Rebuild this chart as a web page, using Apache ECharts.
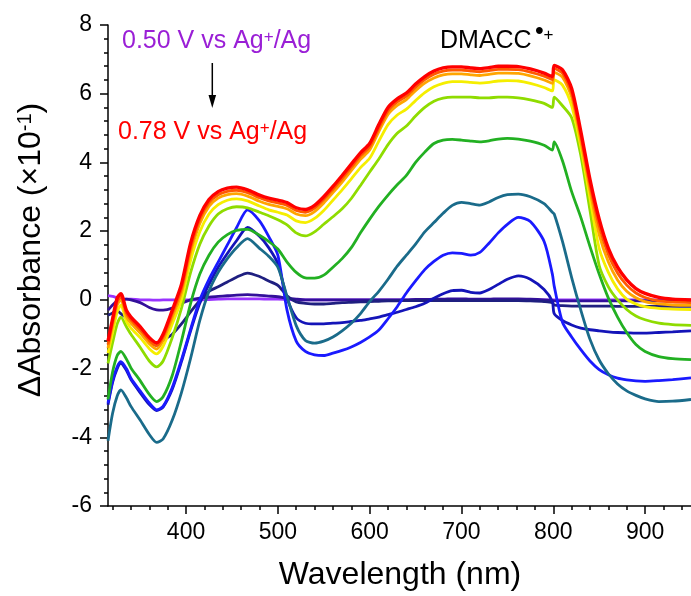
<!DOCTYPE html>
<html>
<head>
<meta charset="utf-8">
<script src="https://cdn.jsdelivr.net/npm/echarts@6/dist/echarts.min.js"></script>
<style>
  html, body { margin: 0; padding: 0; background: #fff; }
  #chart { width: 691px; height: 596px; }
</style>
</head>
<body>
<div id="chart"></div>
<script>
// Wavelength grid (nm) shared by every difference spectrum
const wavelength = [315,320,325,329,335,340,350,360,368,375,385,395,405,415,425,435,445,455,467,480,490,500,510,520,530,540,550,560,570,580,590,600,610,620,630,640,650,660,670,680,690,700,710,720,730,740,750,762,775,790,799,801,810,820,830,840,850,860,870,880,890,900,915,930,950];

// Difference absorbance (x10^-1), one trace per applied potential,
// from 0.50 V (trace01) up to 0.78 V vs Ag+/Ag (trace12)
const trace01 = [0.12,0.10,0.06,0.03,0.02,0.02,0.00,0.00,-0.01,0.00, 0.00,0.00,0.00,0.00,0.01,0.02,0.03,0.03,0.03,0.03, 0.02,0.02,0.01,0.00,0.00,0.00,0.00,0.00,0.00,0.00, 0.00,0.00,0.00,0.00,0.00,0.00,0.00,0.00,0.00,0.00, 0.01,0.01,0.01,0.01,0.01,0.01,0.01,0.01,0.01,0.00, 0.00,0.00,0.00,0.00,0.00,0.00,0.00,0.00,0.00,0.00, 0.00,0.00,0.00,0.00,0.00];
const trace02 = [-0.30,-0.15,-0.03,0.00,0.02,0.00,-0.08,-0.22,-0.29,-0.30, -0.24,-0.10,0.00,0.05,0.08,0.10,0.12,0.14,0.15,0.13, 0.11,0.09,0.05,0.02,0.00,0.00,0.00,0.00,0.00,0.00, 0.00,0.00,0.00,0.00,0.00,0.00,0.01,0.01,0.02,0.02, 0.03,0.03,0.02,0.02,0.02,0.03,0.03,0.03,0.02,0.00, -0.02,-0.03,-0.03,-0.03,-0.03,-0.03,-0.03,-0.03,-0.03,-0.03, -0.03,-0.03,-0.03,-0.03,-0.03];
const trace03 = [-0.45,-0.38,-0.32,-0.40,-0.52,-0.65,-0.95,-1.20,-1.32,-1.18, -1.00,-0.70,-0.35,-0.02,0.25,0.38,0.52,0.66,0.78,0.68, 0.55,0.42,0.12,-0.06,-0.10,-0.12,-0.12,-0.10,-0.08,-0.07, -0.06,-0.05,-0.04,-0.03,-0.03,-0.02,-0.02,-0.02,-0.02,-0.02, -0.02,-0.02,-0.02,-0.02,-0.02,-0.02,-0.02,-0.02,-0.03,-0.05, -0.08,-0.15,-0.17,-0.18,-0.18,-0.18,-0.18,-0.18,-0.19,-0.19, -0.19,-0.19,-0.19,-0.19,-0.19];
const trace04 = [-3.05,-2.40,-2.00,-1.85,-2.05,-2.32,-2.70,-3.05,-3.22,-3.12, -2.60,-1.80,-0.90,-0.10,0.45,0.95,1.35,1.72,2.11,1.85, 1.52,1.05,0.05,-0.52,-0.68,-0.70,-0.70,-0.68,-0.66,-0.63, -0.60,-0.55,-0.50,-0.43,-0.36,-0.28,-0.20,-0.10,0.05,0.18, 0.27,0.28,0.22,0.20,0.30,0.45,0.60,0.70,0.60,0.30, -0.05,-0.40,-0.60,-0.73,-0.82,-0.87,-0.90,-0.93,-0.95,-0.96, -0.97,-0.97,-0.95,-0.93,-0.90];
const trace05 = [-3.00,-2.35,-1.95,-1.80,-2.00,-2.28,-2.65,-3.00,-3.20,-3.10, -2.55,-1.75,-0.85,0.00,0.60,1.10,1.60,2.10,2.62,2.30, 1.85,1.30,-0.30,-1.20,-1.50,-1.60,-1.62,-1.55,-1.47,-1.37, -1.24,-1.08,-0.88,-0.55,-0.20,0.20,0.55,0.88,1.12,1.30, 1.37,1.35,1.30,1.38,1.65,1.95,2.20,2.40,2.28,1.70, 0.75,0.40,-0.65,-1.08,-1.45,-1.78,-2.03,-2.18,-2.28,-2.33, -2.36,-2.37,-2.35,-2.32,-2.27];
const trace06 = [-4.10,-3.30,-2.80,-2.62,-2.85,-3.10,-3.50,-3.92,-4.15,-4.05, -3.50,-2.70,-1.70,-0.60,0.25,0.80,1.20,1.52,1.78,1.50, 1.27,0.95,0.10,-0.75,-1.18,-1.26,-1.20,-1.08,-0.90,-0.68, -0.40,-0.05,0.25,0.60,0.98,1.30,1.62,1.98,2.25,2.52, 2.75,2.84,2.80,2.76,2.85,2.98,3.06,3.08,3.00,2.80, 2.55,2.50,1.70,0.65,-0.30,-1.15,-1.75,-2.15,-2.45,-2.65, -2.78,-2.88,-2.96,-2.95,-2.90];
const trace07 = [-2.90,-2.10,-1.62,-1.50,-1.72,-1.98,-2.35,-2.75,-2.96,-2.82, -2.20,-1.20,-0.10,0.75,1.30,1.68,1.90,2.02,2.05,1.88, 1.70,1.48,1.10,0.80,0.64,0.63,0.72,0.95,1.20,1.52, 1.95,2.35,2.72,3.05,3.35,3.62,4.00,4.30,4.55,4.65, 4.67,4.65,4.62,4.60,4.63,4.68,4.70,4.68,4.62,4.50, 4.36,4.60,4.05,3.15,2.40,1.55,0.75,0.05,-0.50,-0.95, -1.30,-1.50,-1.65,-1.71,-1.74];
const trace08 = [-1.85,-1.25,-0.70,-0.50,-0.78,-1.00,-1.38,-1.78,-1.95,-1.78, -1.10,-0.25,0.80,1.62,2.15,2.50,2.65,2.71,2.68,2.55, 2.45,2.33,2.18,1.95,1.86,1.98,2.20,2.42,2.65,2.95, 3.33,3.72,4.10,4.52,4.85,5.06,5.35,5.60,5.78,5.87, 5.90,5.90,5.90,5.88,5.88,5.90,5.90,5.88,5.82,5.72, 5.60,5.90,5.65,5.30,4.20,2.60,1.00,0.38,0.00,-0.28, -0.47,-0.58,-0.68,-0.72,-0.74];
const trace09 = [-1.55,-0.95,-0.35,-0.15,-0.62,-0.82,-1.10,-1.42,-1.57,-1.35, -0.70,0.00,1.15,1.98,2.50,2.77,2.90,2.94,2.88,2.73, 2.62,2.55,2.47,2.30,2.25,2.37,2.60,2.90,3.20,3.52, 3.85,4.12,4.62,5.10,5.38,5.55,5.80,6.03,6.20,6.30, 6.35,6.35,6.33,6.31,6.33,6.37,6.38,6.37,6.30,6.18, 6.08,6.40,6.25,5.65,4.45,2.95,1.50,0.80,0.32,0.02, -0.12,-0.20,-0.25,-0.27,-0.28];
const trace10 = [-1.40,-0.75,-0.15,0.00,-0.48,-0.68,-0.96,-1.28,-1.43,-1.18, -0.52,0.20,1.38,2.22,2.72,2.96,3.06,3.09,3.02,2.87, 2.78,2.72,2.65,2.50,2.45,2.57,2.82,3.12,3.43,3.76, 4.09,4.36,4.90,5.40,5.66,5.83,6.09,6.31,6.46,6.55, 6.58,6.58,6.55,6.53,6.56,6.60,6.60,6.59,6.52,6.40, 6.30,6.62,6.48,5.90,4.62,3.18,1.90,1.10,0.58,0.25, 0.06,-0.05,-0.12,-0.15,-0.16];
const trace11 = [-1.30,-0.65,-0.05,0.10,-0.38,-0.58,-0.86,-1.18,-1.33,-1.08, -0.40,0.33,1.52,2.35,2.83,3.06,3.16,3.19,3.12,2.97, 2.88,2.82,2.75,2.60,2.55,2.67,2.92,3.22,3.53,3.86, 4.19,4.46,5.00,5.50,5.76,5.93,6.19,6.41,6.57,6.66, 6.69,6.69,6.66,6.64,6.67,6.71,6.71,6.70,6.63,6.51, 6.41,6.73,6.60,6.02,4.78,3.35,2.15,1.32,0.78,0.43, 0.20,0.07,-0.03,-0.06,-0.08];
const trace12 = [-1.20,-0.55,0.05,0.18,-0.30,-0.50,-0.78,-1.10,-1.25,-1.00, -0.30,0.45,1.65,2.45,2.92,3.15,3.25,3.28,3.20,3.05, 2.96,2.90,2.83,2.68,2.63,2.75,3.00,3.30,3.62,3.95, 4.28,4.55,5.10,5.60,5.85,6.02,6.28,6.50,6.66,6.75, 6.78,6.78,6.75,6.73,6.76,6.80,6.80,6.79,6.72,6.60, 6.50,6.82,6.70,6.15,4.90,3.50,2.35,1.50,0.95,0.58, 0.33,0.19,0.07,0.02,0.00];

const traces = [trace01, trace02, trace03, trace04, trace05, trace06, trace07, trace08, trace09, trace10, trace11, trace12];
const traceColors = ['#9933ff','#33109a','#1f1f80','#1414b8','#1a1aff','#1a6b8a','#22b022','#8fdc00','#f5ee00','#ffa500','#ff5a00','#ff0000'];

// Axis ticks
const xMajorTicks = [400,500,600,700,800,900];
const xMinorTicks = [320,340,360,380,420,440,460,480,520,540,560,580,620,640,660,680,720,740,760,780,820,840,860,880,920,940];

const FONT = "'Liberation Sans', Arial, Helvetica, sans-serif";
const chart = echarts.init(document.getElementById('chart'), null, { renderer: 'canvas' });

const series = traces.map((vals, k) => ({
  type: 'line',
  xAxisIndex: 0,
  yAxisIndex: 0,
  data: wavelength.map((w, i) => [w, vals[i]]),
  showSymbol: false,
  smooth: 0.25,
  silent: true,
  lineStyle: { color: traceColors[k], width: k === traces.length - 1 ? 3.4 : 2.8 },
  z: 2 + k
}));

chart.setOption({
  animation: false,
  backgroundColor: '#fff',
  grid: { left: 108, right: -3, top: 25, bottom: 90, containLabel: false },
  xAxis: [
    {
      type: 'value', min: 315, max: 950, position: 'bottom',
      axisLine: { show: true, onZero: false, lineStyle: { color: '#000', width: 1.5 } },
      axisTick: { show: true, customValues: xMajorTicks, length: 8, lineStyle: { color: '#000', width: 1.5 } },
      axisLabel: { show: true, customValues: xMajorTicks, color: '#000', fontSize: 23, fontFamily: FONT, margin: 15 },
      splitLine: { show: false }
    },
    {
      type: 'value', min: 315, max: 950, position: 'bottom',
      axisLine: { show: false, onZero: false },
      axisTick: { show: true, customValues: xMinorTicks, length: 4, lineStyle: { color: '#000', width: 1.5 } },
      axisLabel: { show: false },
      splitLine: { show: false }
    }
  ],
  yAxis: {
    type: 'value', min: -6, max: 8, interval: 2,
    axisLine: { show: true, onZero: false, lineStyle: { color: '#000', width: 1.5 } },
    axisTick: { show: true, length: 8, lineStyle: { color: '#000', width: 1.5 } },
    minorTick: { show: true, splitNumber: 5, length: 4, lineStyle: { color: '#000', width: 1.5 } },
    axisLabel: { color: '#000', fontSize: 23, fontFamily: FONT, margin: 16 },
    splitLine: { show: false },
    minorSplitLine: { show: false }
  },
  series: series,
  graphic: [
    {
      type: 'text', x: 400, y: 575, z: 100,
      style: { text: 'Wavelength (nm)', fill: '#000', fontSize: 32, fontFamily: FONT, align: 'center', verticalAlign: 'middle' }
    },
    {
      type: 'text', x: 31, y: 250, rotation: Math.PI / 2, z: 100,
      style: {
        text: 'ΔAbsorbance (×10{sup|-1})', fill: '#000', fontSize: 32, fontFamily: FONT,
        align: 'center', verticalAlign: 'middle',
        rich: { sup: { fontSize: 20, fontFamily: FONT, fill: '#000', verticalAlign: 'top' } }
      }
    },
    {
      type: 'text', x: 122, y: 41, z: 100,
      style: {
        text: '0.50 V vs Ag{sup|+}/Ag', fill: '#9a1fd6', fontSize: 25, fontFamily: FONT,
        align: 'left', verticalAlign: 'middle',
        rich: { sup: { fontSize: 17, fontFamily: FONT, fill: '#9a1fd6', verticalAlign: 'top' } }
      }
    },
    {
      type: 'text', x: 118, y: 132, z: 100,
      style: {
        text: '0.78 V vs Ag{sup|+}/Ag', fill: '#ff0000', fontSize: 25, fontFamily: FONT,
        align: 'left', verticalAlign: 'middle',
        rich: { sup: { fontSize: 17, fontFamily: FONT, fill: '#ff0000', verticalAlign: 'top' } }
      }
    },
    {
      type: 'text', x: 440, y: 41, z: 100,
      style: { text: 'DMACC', fill: '#000', fontSize: 25, fontFamily: FONT, align: 'left', verticalAlign: 'middle' }
    },
    {
      type: 'text', x: 539.5, y: 32, z: 100,
      style: { text: '•', fill: '#000', fontSize: 25, fontFamily: FONT, align: 'center', verticalAlign: 'middle' }
    },
    {
      type: 'text', x: 548.5, y: 35, z: 100,
      style: { text: '+', fill: '#000', fontSize: 17, fontFamily: FONT, align: 'center', verticalAlign: 'middle' }
    },
    {
      type: 'line', z: 100,
      shape: { x1: 212.3, y1: 63, x2: 212.3, y2: 98 },
      style: { stroke: '#000', lineWidth: 1.5 }
    },
    {
      type: 'polygon', z: 100,
      shape: { points: [[208.5, 95], [216.1, 95], [212.3, 108]] },
      style: { fill: '#000' }
    }
  ]
});
</script>
</body>
</html>
